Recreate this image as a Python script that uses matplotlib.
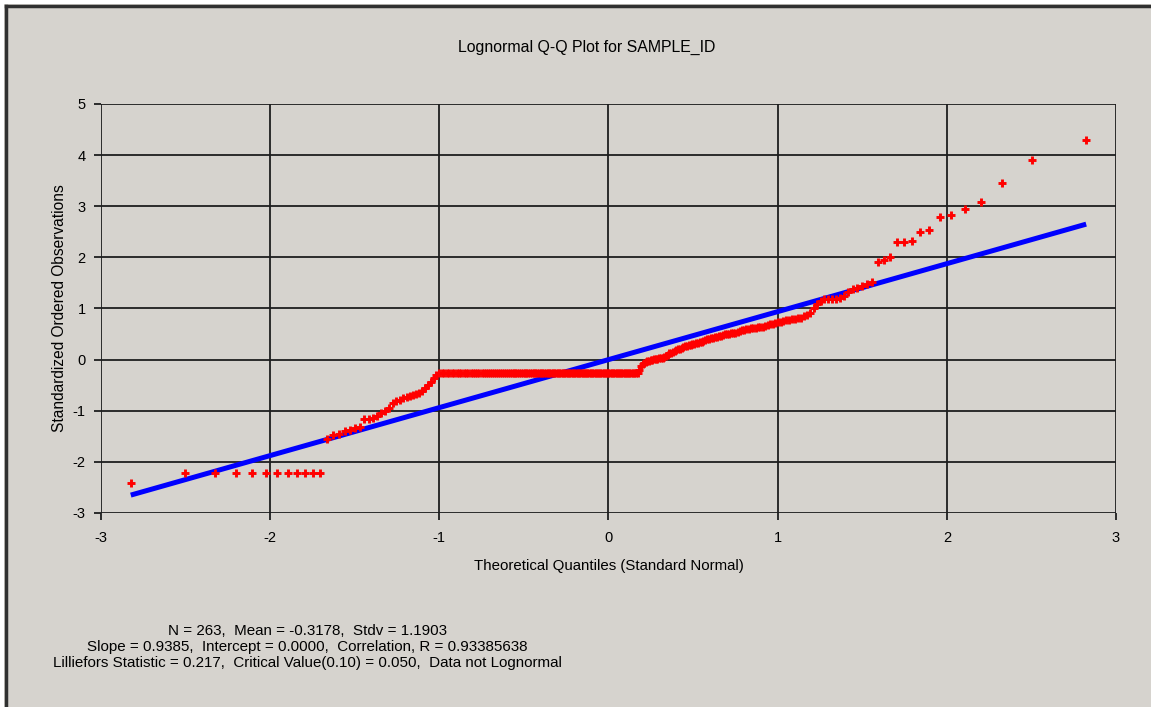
import numpy as np
import matplotlib.pyplot as plt
from matplotlib.lines import Line2D
from matplotlib.patches import Rectangle
from statistics import NormalDist

# standardized ordered observations (N = 263)
obs_low_tail = [-2.42]
obs_tie_low = -2.22          # value shared by ranks 2..12
obs_tie_low_count = 11
obs_rise_1 = [-1.55, -1.48, -1.45, -1.40, -1.37, -1.34, -1.31, -1.17, -1.16, -1.15,
              -1.10, -1.05, -1.01, -0.95, -0.85, -0.81, -0.78, -0.76, -0.74, -0.72,
              -0.70, -0.68, -0.65, -0.62, -0.56, -0.49, -0.43, -0.36, -0.30]
obs_tie_mid = -0.27          # long flat run of tied values
obs_tie_mid_count = 109
obs_rise_2 = [-0.20, -0.12, -0.08, -0.06,
              -0.04, -0.03, -0.02, -0.01,
              0.00, 0.01, 0.02, 0.02, 0.03, 0.04, 0.04, 0.05,
              0.08, 0.10, 0.12, 0.13, 0.14,
              0.16, 0.18, 0.20, 0.21, 0.23, 0.24,
              0.26, 0.27, 0.28, 0.29, 0.30, 0.31, 0.32, 0.33,
              0.34, 0.35, 0.37, 0.38, 0.40, 0.41,
              0.42, 0.43, 0.44, 0.45, 0.46, 0.47, 0.49,
              0.50, 0.50, 0.51, 0.52, 0.52, 0.53, 0.54,
              0.56, 0.57, 0.58, 0.59, 0.60, 0.61,
              0.62, 0.62, 0.63, 0.63, 0.64, 0.65,
              0.67, 0.69, 0.70, 0.72,
              0.73, 0.74, 0.76, 0.77, 0.78,
              0.79, 0.80, 0.81, 0.82,
              0.85, 0.88, 0.92,
              1.00, 1.08, 1.14, 1.18,
              1.19, 1.19, 1.19, 1.20,
              1.25, 1.33, 1.38, 1.41,
              1.44, 1.47, 1.51]
obs_high_tail = [1.90, 1.94, 2.00, 2.31, 2.31, 2.33, 2.50, 2.54, 2.78, 2.82,
                 2.95, 3.09, 3.46, 3.91, 4.30]

slope = 0.9385
intercept = 0.0

title = "Lognormal Q-Q Plot for SAMPLE_ID"
xlabel = "Theoretical Quantiles (Standard Normal)"
ylabel = "Standardized Ordered Observations"
stats_text = ("N = 263,  Mean = -0.3178,  Stdv = 1.1903\n"
              "Slope = 0.9385,  Intercept = 0.0000,  Correlation, R = 0.93385638\n"
              "Lilliefors Statistic = 0.217,  Critical Value(0.10) = 0.050,  Data not Lognormal")
xticks = [-3, -2, -1, 0, 1, 2, 3]
yticks = [-3, -2, -1, 0, 1, 2, 3, 4, 5]

obs = np.array(obs_low_tail + [obs_tie_low] * obs_tie_low_count + obs_rise_1
               + [obs_tie_mid] * obs_tie_mid_count + obs_rise_2 + obs_high_tail)
n = len(obs)
# Blom plotting positions for the theoretical quantiles
nd = NormalDist()
theo = np.array([nd.inv_cdf((i - 0.375) / (n + 0.25)) for i in range(1, n + 1)])

bg = "#D6D3CE"
plt.rcParams["font.family"] = ["Liberation Sans", "DejaVu Sans"]

fig = plt.figure(figsize=(11.51, 7.07), dpi=100, facecolor=bg)
ax = fig.add_axes([0.0877, 0.2744, 0.8819, 0.5785], facecolor=bg)

ax.plot(theo, intercept + slope * theo, color="#0000FF", lw=3.6,
        solid_capstyle="butt", zorder=3)
ax.plot(theo, obs, linestyle="none", marker="+", markersize=5.6,
        color="#FF0000", markeredgewidth=2.1, zorder=4)

ax.set_xlim(-3, 3)
ax.set_ylim(-3, 5)
ax.set_xticks(xticks)
ax.set_yticks(yticks)
ax.set_xticklabels([str(t) for t in xticks])
ax.set_yticklabels([str(t) for t in yticks])
ax.grid(True, color="#1e1e1e", lw=1.3)
ax.set_axisbelow(True)
for s in ax.spines.values():
    s.set_visible(False)
ax.tick_params(direction="out", length=5, width=1.3, color="#1e1e1e",
               labelsize=10.5)
ax.tick_params(axis="x", pad=8)
ax.tick_params(axis="y", pad=6)

ax.set_xlabel(xlabel, fontsize=10.8, labelpad=10)
ax.set_ylabel(ylabel, fontsize=11.2, labelpad=4)
fig.text(0.510, 1 - 47 / 707, title, ha="center", va="center", fontsize=11.4)
fig.text(307 / 1151, 1 - 647 / 707, stats_text, ha="center", va="center",
         multialignment="center", fontsize=10.9, linespacing=1.18)

# window frame: white margin and dark border on left and top
fig.patches.append(Rectangle((0, 0), 4 / 1151, 1, transform=fig.transFigure,
                             facecolor="white", edgecolor="none"))
fig.patches.append(Rectangle((0, 1 - 4 / 707), 1, 4 / 707, transform=fig.transFigure,
                             facecolor="white", edgecolor="none"))
fig.lines.append(Line2D([5.5 / 1151, 5.5 / 1151], [0, 1 - 5.5 / 707],
                        transform=fig.transFigure, color="#303030", lw=2.5))
fig.lines.append(Line2D([5.5 / 1151, 1], [1 - 5.5 / 707, 1 - 5.5 / 707],
                        transform=fig.transFigure, color="#303030", lw=2.5))

fig.savefig("out.png", dpi=100, facecolor=bg)
